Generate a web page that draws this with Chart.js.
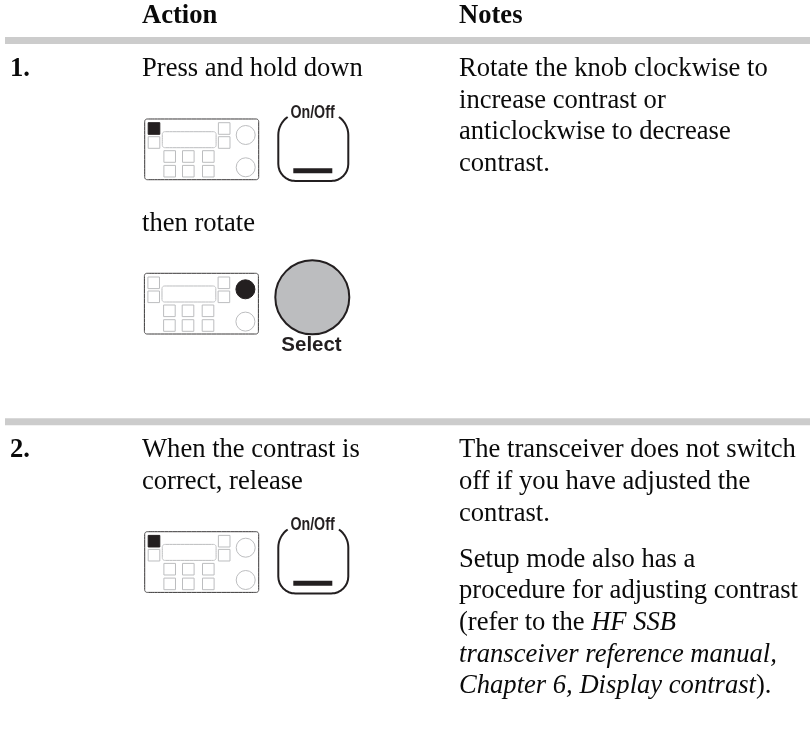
<!DOCTYPE html>
<html>
<head>
<meta charset="utf-8">
<title>Adjusting contrast</title>
<script src="https://cdn.jsdelivr.net/npm/chart.js@4"></script>
<style>
  html, body { margin: 0; padding: 0; background: #fff; }
  canvas { display: block; }
</style>
</head>
<body>
<canvas id="page" width="810" height="753"></canvas>
<script>
// Page text, one run per entry (x = null carries on after the previous run)
const textRuns = [
  ['Action', 142, 23, 'bold'], ['Notes', 459, 23, 'bold'],
  ['1.', 10, 76, 'bold'], ['Press and hold down', 142, 76, ''],
  ['Rotate the knob clockwise to', 459, 76, ''],
  ['increase contrast or', 459, 107.7, ''],
  ['anticlockwise to decrease', 459, 139, ''],
  ['contrast.', 459, 171, ''],
  ['then rotate', 142, 231, ''],
  ['2.', 10, 456.7, 'bold'], ['When the contrast is', 142, 456.7, ''],
  ['correct, release', 142, 489, ''],
  ['The transceiver does not switch', 459, 456.7, ''],
  ['off if you have adjusted the', 459, 489, ''],
  ['contrast.', 459, 521, ''],
  ['Setup mode also has a', 459, 566.7, ''],
  ['procedure for adjusting contrast', 459, 598.4, ''],
  ['(refer to the ', 459, 630, ''], ['HF SSB', null, 630, 'italic'],
  ['transceiver reference manual,', 459, 661.7, 'italic'],
  ['Chapter 6, Display contrast', 459, 693.3, 'italic'], [').', null, 693.3, '']
];
// text, x, y, font, horizontal squeeze (the key labels are condensed)
const keyLabels = [
  ['On/Off', 312.5, 113.5, 'bold 18px', 0.79],
  ['Select', 311.5, 345, 'bold 20.5px', 1],
  ['On/Off', 312.5, 525.5, 'bold 18px', 0.79]
];

// Separator rules
const ruleY = [40.5, 421.7];
const ruleX = [5, 810];

// Front panel icons
const panelLeft = [144.7, 144.4, 144.7];
const panelTop = [119, 273.3, 531.7];
const panelWidth = 114;
const panelHeight = 60.7;
const squareDX = [9.3, 9.3, 25, 43.6, 63.6, 25, 43.6, 63.6, 79.5, 79.5];
const squareDY = [9.5, 23.5, 37.5, 37.5, 37.5, 52.2, 52.2, 52.2, 9.5, 23.5];
const knobDX = [101, 101];
const knobDY = [16, 48.3];
const activeSquare = [0, null, 0];
const activeKnob = [null, 0, null];

// On/Off key outlines, Select knob
const keyLeft = [278.3, 278.3];
const keyBottom = [181, 593.5];
const selectKnob = [{ x: 312.3, y: 297.3 }];

const ink = '#231f20';
const soft = '#bcbdbf';

function arc(cx, cy, r, from, to) {
  const pts = [];
  for (let i = 0; i <= 8; i++) {
    const a = (from + (to - from) * i / 8) * Math.PI / 180;
    pts.push({ x: cx + r * Math.cos(a), y: cy + r * Math.sin(a) });
  }
  return pts;
}

function roundBox(x, y, w, h, r) {
  const pts = [
    ...arc(x + r, y + r, r, 180, 270),
    ...arc(x + w - r, y + r, r, 270, 360),
    ...arc(x + w - r, y + h - r, r, 0, 90),
    ...arc(x + r, y + h - r, r, 90, 180)
  ];
  pts.push(pts[0]);
  return pts;
}

function keyOutline(left, bottom) {
  const w = 70, r = 17;
  return [
    ...arc(left + 22, bottom - 46, 22, 235, 180),
    ...arc(left + r, bottom - r, r, 180, 90),
    ...arc(left + w - r, bottom - r, r, 90, 0),
    ...arc(left + w - 22, bottom - 46, 22, 0, -55)
  ];
}

// small tension keeps Chart.js off its x-sorted fast path, these outlines double back
function lineSet(data, color, width) {
  return { type: 'line', data, borderColor: color, borderWidth: width, pointRadius: 0, tension: 0.01, fill: false };
}

function pointSet(data, style, radius, fills, border, width) {
  return {
    type: 'scatter', data, pointStyle: style, pointRadius: radius,
    pointBackgroundColor: fills, pointBorderColor: border, pointBorderWidth: width
  };
}

const datasets = [];

ruleY.forEach(y => {
  datasets.push(lineSet(ruleX.map(x => ({ x, y })), '#cccccc', 7));
});

panelTop.forEach((top, i) => {
  const left = panelLeft[i];
  datasets.push(lineSet(roundBox(left, top, panelWidth, panelHeight, 2.5), '#3a3839', 1));
  datasets.push(lineSet(roundBox(left + 17.6, top + 12.7, 53.8, 16, 2.5), soft, 1));
  datasets.push(pointSet(
    squareDX.map((dx, k) => ({ x: left + dx, y: top + squareDY[k] })),
    'rect', 8.2,
    squareDX.map((dx, k) => k === activeSquare[i] ? ink : '#ffffff'),
    squareDX.map((dx, k) => k === activeSquare[i] ? ink : soft), 1
  ));
  datasets.push(pointSet(
    knobDX.map((dx, k) => ({ x: left + dx, y: top + knobDY[k] })),
    'circle', 9.5,
    knobDX.map((dx, k) => k === activeKnob[i] ? ink : '#ffffff'),
    knobDX.map((dx, k) => k === activeKnob[i] ? ink : soft), 1
  ));
});

keyBottom.forEach((bottom, i) => {
  const left = keyLeft[i];
  datasets.push(lineSet(keyOutline(left, bottom), ink, 2));
  datasets.push(lineSet([{ x: left + 15, y: bottom - 10.3 }, { x: left + 54, y: bottom - 10.3 }], ink, 5));
});

datasets.push(pointSet(selectKnob, 'circle', 37, [soft], ink, 2));

// Text goes through the same scales as the marks
const pageText = {
  id: 'pageText',
  afterDraw(chart) {
    const { ctx, scales } = chart;
    ctx.save();
    ctx.fillStyle = '#0a0a0a';
    ctx.textBaseline = 'alphabetic';
    let cursor = 0;
    textRuns.forEach(([text, x, y, style]) => {
      ctx.textAlign = 'left';
      ctx.font = `${style} 26.6px "Liberation Serif"`;
      const px = x === null ? cursor : scales.x.getPixelForValue(x);
      ctx.fillText(text, px, scales.y.getPixelForValue(y));
      cursor = px + ctx.measureText(text).width;
    });
    ctx.fillStyle = ink;
    ctx.textBaseline = 'middle';
    ctx.textAlign = 'center';
    keyLabels.forEach(([text, x, y, font, squeeze]) => {
      ctx.save();
      ctx.translate(scales.x.getPixelForValue(x), scales.y.getPixelForValue(y));
      ctx.scale(squeeze, 1);
      ctx.font = `${font} "Liberation Sans"`;
      ctx.fillText(text, 0, 0);
      ctx.restore();
    });
    ctx.restore();
  }
};

new Chart(document.getElementById('page'), {
  data: { datasets },
  plugins: [pageText],
  options: {
    responsive: false,
    animation: false,
    devicePixelRatio: 1,
    layout: { padding: 0, autoPadding: false },
    plugins: { legend: { display: false }, tooltip: { enabled: false } },
    scales: {
      x: { type: 'linear', min: 0, max: 810, display: false },
      y: { type: 'linear', min: 0, max: 753, reverse: true, display: false }
    }
  }
});
</script>
</body>
</html>
